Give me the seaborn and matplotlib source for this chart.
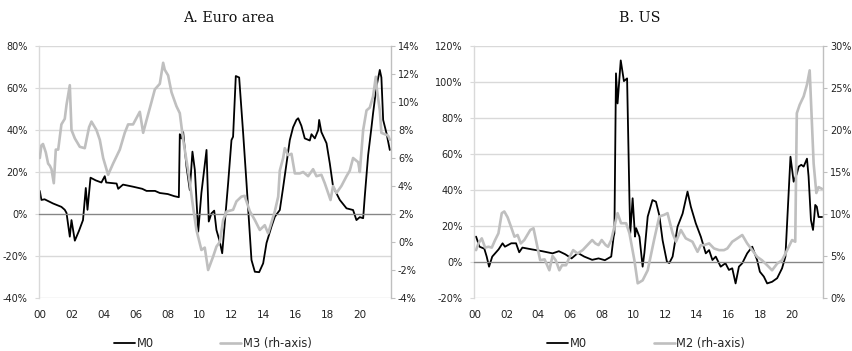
import matplotlib
matplotlib.use("Agg")
import matplotlib.pyplot as plt
from matplotlib.ticker import FuncFormatter, MultipleLocator
from matplotlib.lines import Line2D
import seaborn as sns

# ---- A. Euro area: M0 (lh-axis, % y/y) ----
ea_m0_t = [2000.0, 2000.1, 2000.3, 2000.83, 2001.35, 2001.56, 2001.67, 2001.875, 2001.98,
           2002.19, 2002.45, 2002.7, 2002.875, 2002.98, 2003.17, 2003.5, 2003.85, 2004.06,
           2004.15, 2004.8, 2004.9, 2005.2, 2005.83, 2006.4, 2006.67, 2007.2, 2007.5, 2008.0,
           2008.4, 2008.69, 2008.75, 2008.85, 2008.96, 2009.17, 2009.375, 2009.54, 2009.69,
           2009.9, 2010.1, 2010.42, 2010.56, 2010.73, 2010.9, 2011.04, 2011.25, 2011.4,
           2011.77, 2011.98, 2012.08, 2012.25, 2012.46, 2012.71, 2012.92, 2013.23, 2013.44,
           2013.71, 2013.96, 2014.17, 2014.48, 2014.69, 2015.0, 2015.2, 2015.42, 2015.625,
           2015.83, 2016.04, 2016.15, 2016.35, 2016.56, 2016.875, 2016.98, 2017.19, 2017.4,
           2017.46, 2017.6, 2017.92, 2018.125, 2018.33, 2018.75, 2019.17, 2019.58, 2019.79,
           2020.0, 2020.21, 2020.31, 2020.52, 2020.73, 2020.83, 2021.04, 2021.25, 2021.35,
           2021.46, 2021.67, 2021.875]
ea_m0 = [11, 6.7, 7, 5, 3.4, 2, 0.5, -10.8, -2.9,
         -12.7, -8, -2.9, 12.4, 2, 17.3, 16, 15, 18,
         15, 14.5, 12, 14, 13, 12, 11, 11, 10, 9.5,
         8.5, 8, 38, 36, 39, 22.5, 11.4, 29.7, 21,
         -8.4, 10, 30.5, -3.6, 0.3, 1.6, -7.6, -13.2, -18.7,
         14.6, 35.2, 36.8, 65.7, 65, 38.4, 14.6, -21.9, -27.5,
         -27.7, -23.5, -13.8, -6, -1.3, 1.9, 12.2, 24.1, 35.2,
         41.3, 44.8, 45.6, 42, 36, 35, 38, 36, 40,
         44.8, 39, 33.7, 24.1, 13, 6.7, 2.7, 1.9, -2.9,
         -1.5, -2, 8.3, 28, 41.3, 48, 60.6, 68.6, 65,
         44.8, 38.4, 30.5]

# ---- A. Euro area: M3 (rh-axis) ----
ea_m3_t = [2000.0, 2000.1, 2000.2, 2000.375, 2000.52, 2000.625, 2000.73, 2000.875, 2001.0,
           2001.15, 2001.35, 2001.56, 2001.67, 2001.875, 2001.98, 2002.19, 2002.5, 2002.81,
           2003.08, 2003.23, 2003.54, 2003.75, 2003.96, 2004.27, 2004.58, 2005.0, 2005.31,
           2005.52, 2005.83, 2006.25, 2006.46, 2006.67, 2006.98, 2007.19, 2007.5, 2007.71,
           2007.81, 2008.02, 2008.23, 2008.54, 2008.75, 2008.96, 2009.27, 2009.58, 2009.79,
           2010.1, 2010.31, 2010.52, 2010.83, 2011.04, 2011.25, 2011.46, 2011.67, 2012.08,
           2012.29, 2012.6, 2012.8, 2013.125, 2013.44, 2013.75, 2014.06, 2014.27, 2014.48,
           2014.69, 2014.9, 2015.0, 2015.21, 2015.31, 2015.52, 2015.73, 2015.94, 2016.25,
           2016.46, 2016.77, 2017.08, 2017.29, 2017.6, 2017.81, 2018.02, 2018.17, 2018.33,
           2018.54, 2018.85, 2019.17, 2019.375, 2019.58, 2019.9, 2020.0, 2020.21, 2020.42,
           2020.625, 2020.83, 2021.0, 2021.08, 2021.25, 2021.35, 2021.56, 2021.77, 2021.875]
ea_m3 = [6.0, 6.9, 7.0, 6.4, 5.6, 5.45, 5.2, 4.2, 6.6,
         6.6, 8.4, 8.8, 9.8, 11.2, 8.0, 7.4, 6.8, 6.7,
         8.2, 8.6, 8.0, 7.3, 6.0, 4.8, 5.6, 6.6, 7.8,
         8.4, 8.4, 9.3, 7.8, 8.7, 10.0, 10.9, 11.3, 12.8,
         12.3, 11.9, 10.7, 9.7, 9.2, 7.3, 5.1, 2.5, 0.86,
         -0.57, -0.4, -2.0, -1.05, -0.33, 0.0, 1.57, 2.17, 2.3,
         2.9, 3.24, 3.3, 2.2, 1.57, 0.86, 1.2, 0.62, 1.4,
         2.2, 3.24, 5.1, 6.0, 6.7, 6.2, 6.3, 4.9, 4.9,
         5.0, 4.7, 5.2, 4.7, 4.8, 4.2, 3.5, 3.0, 4.0,
         3.5, 4.0, 4.7, 5.1, 6.0, 5.7, 5.0, 8.0, 9.4,
         9.6, 10.4, 11.8, 10.8, 9.4, 7.8, 7.7, 7.6, 7.3]

# ---- B. US: M0 (lh-axis) ----
us_m0_t = [2000.08, 2000.3, 2000.6, 2000.75, 2000.9, 2001.1, 2001.3, 2001.5, 2001.75,
           2001.9, 2002.3, 2002.6, 2002.8, 2003.0, 2003.6, 2004.25, 2004.9, 2005.3,
           2005.7, 2006.1, 2006.5, 2006.9, 2007.4, 2007.8, 2008.2, 2008.6, 2008.75, 2008.8,
           2008.9, 2009.0, 2009.2, 2009.4, 2009.6, 2009.75, 2009.8, 2009.95, 2010.1, 2010.17,
           2010.38, 2010.58, 2010.69, 2010.9, 2011.2, 2011.42, 2011.63, 2011.84, 2012.11,
           2012.26, 2012.47, 2012.78, 2013.1, 2013.41, 2013.62, 2013.93, 2014.25, 2014.56,
           2014.77, 2014.98, 2015.19, 2015.3, 2015.5, 2015.8, 2016.02, 2016.23, 2016.44,
           2016.65, 2016.86, 2017.17, 2017.49, 2017.8, 2017.97, 2018.22, 2018.43, 2018.74,
           2019.06, 2019.37, 2019.58, 2019.9, 2020.1, 2020.3, 2020.42, 2020.58, 2020.73,
           2020.94, 2021.04, 2021.19, 2021.32, 2021.4, 2021.46, 2021.56, 2021.67, 2021.77,
           2021.9]
us_m0 = [14.1, 8.5, 7.4, 3, -2.6, 3, 5, 7, 10.4,
         8.5, 10.4, 10.4, 5.4, 8, 7, 6, 4.8, 6,
         4.3, 2, 5, 3, 1.2, 2, 1, 3, 14, 16,
         104.8, 88.1, 112, 100.5, 102, 34.4, 16, 35.4, 14.1, 18.8,
         14, -2.6, 5, 25.2, 34.4, 33.5, 26, 12, 0.2,
         -0.6, 3, 19.6, 26.9, 39.1, 30.7, 21.5, 14, 4.8,
         6.6, 1.1, 3, 1, -2.6, -0.7, -4.4, -3.5, -11.9,
         -2.6, -0.7, 4.8, 8.5, 1, -5.4, -8.1, -11.9, -11,
         -9, -3.5, 3, 58.5, 44.6, 49, 53, 54, 53,
         57.4, 47.6, 23.3, 17.8, 25.2, 31.7, 30.7, 25, 25,
         25]

# ---- B. US: M2 (rh-axis) ----
us_m2_t = [2000.08, 2000.23, 2000.44, 2000.65, 2000.86, 2001.07, 2001.28, 2001.49, 2001.7,
           2001.86, 2002.07, 2002.28, 2002.5, 2002.7, 2002.9, 2003.12, 2003.5, 2003.7,
           2003.9, 2004.12, 2004.4, 2004.7, 2004.9, 2005.1, 2005.33, 2005.5, 2005.75, 2005.96,
           2006.2, 2006.48, 2006.8, 2007.1, 2007.4, 2007.6, 2007.8, 2008.0, 2008.25, 2008.4,
           2008.6, 2008.85, 2009.0, 2009.22, 2009.54, 2009.75, 2010.06, 2010.27, 2010.58,
           2010.9, 2011.3, 2011.63, 2011.94, 2012.15, 2012.47, 2012.68, 2012.99, 2013.3,
           2013.72, 2014.04, 2014.25, 2014.46, 2014.77, 2015.08, 2015.4, 2015.71, 2015.92,
           2016.23, 2016.55, 2016.86, 2017.17, 2017.49, 2017.8, 2018.1, 2018.43, 2018.74,
           2019.06, 2019.37, 2019.69, 2020.0, 2020.2, 2020.3, 2020.48, 2020.73, 2020.94,
           2021.11, 2021.36, 2021.53, 2021.67, 2021.88]
us_m2 = [5.7, 6.5, 7.1, 6.0, 6.1, 6.0, 6.9, 7.7, 10.1,
         10.3, 9.6, 8.5, 7.3, 7.5, 6.5, 6.9, 8.1, 8.3,
         6.5, 4.5, 4.6, 3.3, 5.0, 4.5, 3.3, 3.9, 3.9, 4.8,
         5.7, 5.3, 5.7, 6.3, 6.9, 6.5, 6.3, 6.9, 6.3, 6.1,
         6.9, 8.9, 10.1, 8.9, 8.9, 7.7, 4.5, 1.75, 2.1,
         3.3, 6.9, 9.7, 9.9, 10.1, 7.7, 6.7, 8.1, 7.1,
         6.7, 5.5, 6.3, 6.3, 6.5, 5.9, 5.7, 5.7, 5.9,
         6.7, 7.1, 7.5, 6.5, 5.7, 4.9, 4.5, 3.9, 3.3,
         4.1, 4.5, 5.7, 6.9, 6.7, 22, 23, 24, 25.4,
         27.1, 16, 12.5, 13.2, 13.0]

year_ticks = list(range(2000, 2021, 2))
year_labels = [f"{y % 100:02d}" for y in year_ticks]

BLACK = "#000000"
GREY = "#bfbfbf"
GRID = "#d9d9d9"
AXIS = "#868686"
TICKFONT = 7

sns.set_style("white")
plt.rcParams["font.family"] = ["DejaVu Sans"]

fig = plt.figure(figsize=(8.53, 3.51), dpi=100)
W, H = 853, 351


def pct(v, pos):
    return f"{v:.0f}%"


def panel(rect, title, title_x, t0, v0, t1, v1, lbl1, ylim_l, step_l, ylim_r, step_r):
    ax = fig.add_axes(rect)
    ax2 = ax.twinx()

    sns.lineplot(x=t0, y=v0, ax=ax, color=BLACK, lw=1.3, estimator=None, legend=False)
    sns.lineplot(x=t1, y=v1, ax=ax2, color=GREY, lw=1.9, estimator=None, legend=False)

    ax.set_xlim(1999.95, 2021.95)
    ax.set_ylim(*ylim_l)
    ax2.set_ylim(*ylim_r)
    ax.yaxis.set_major_locator(MultipleLocator(step_l))
    ax2.yaxis.set_major_locator(MultipleLocator(step_r))
    ax.yaxis.set_major_formatter(FuncFormatter(pct))
    ax2.yaxis.set_major_formatter(FuncFormatter(pct))
    ax.set_xlabel("")
    ax.set_ylabel("")
    ax2.set_ylabel("")

    ax.yaxis.grid(True, color=GRID, lw=1.0)
    ax.set_axisbelow(True)

    # category axis crossing at zero, with small tick marks
    ax.spines["bottom"].set_position(("data", 0))
    ax.spines["bottom"].set_color(AXIS)
    ax.spines["bottom"].set_linewidth(0.9)
    ax.set_xticks(year_ticks)
    ax.tick_params(axis="x", direction="out", length=3, width=0.8, color=AXIS,
                   labelbottom=False)
    ax.spines["top"].set_visible(False)
    ax.spines["right"].set_visible(False)
    ax.spines["left"].set_color(GRID)
    ax.spines["left"].set_linewidth(1.0)
    ax.tick_params(axis="y", length=3, width=0.8, color=GRID, pad=5,
                   labelsize=TICKFONT, labelcolor="#222222")

    for s in ["top", "left", "bottom"]:
        ax2.spines[s].set_visible(False)
    ax2.spines["right"].set_color("#bfbfbf")
    ax2.spines["right"].set_linewidth(1.0)
    ax2.tick_params(axis="y", length=3, width=0.8, color="#bfbfbf", pad=2,
                    labelsize=TICKFONT, labelcolor="#222222")

    # year labels at the bottom of the plot area
    sec = ax.secondary_xaxis("bottom")
    sec.set_xticks(year_ticks)
    sec.set_xticklabels(year_labels)
    sec.tick_params(length=0, pad=9, labelsize=7.5, labelcolor="#222222")
    sec.spines["bottom"].set_visible(False)

    fig.text(title_x / W, 1 - 22.5 / H, title, ha="center", va="baseline",
             family="DejaVu Serif", fontsize=10.3, color="#111111")

    handles = [Line2D([], [], color=BLACK, lw=1.3),
               Line2D([], [], color=GREY, lw=1.9)]
    ax.legend(handles, ["M0", lbl1], loc="center", bbox_to_anchor=(0.494, -0.179),
              ncol=2, frameon=False, fontsize=8.3, handlelength=1.8,
              handletextpad=0.15, columnspacing=5.8, borderaxespad=0)
    return ax, ax2


bottom = 1 - 298 / H
height = 252 / H
panel([39 / W, bottom, 352 / W, height], "A. Euro area", 229,
      ea_m0_t, ea_m0, ea_m3_t, ea_m3, "M3 (rh-axis)", (-40, 80), 20, (-4, 14), 2)
panel([474 / W, bottom, 349 / W, height], "B. US", 640,
      us_m0_t, us_m0, us_m2_t, us_m2, "M2 (rh-axis)", (-20, 120), 20, (0, 30), 5)

fig.savefig("out.png", dpi=100)
